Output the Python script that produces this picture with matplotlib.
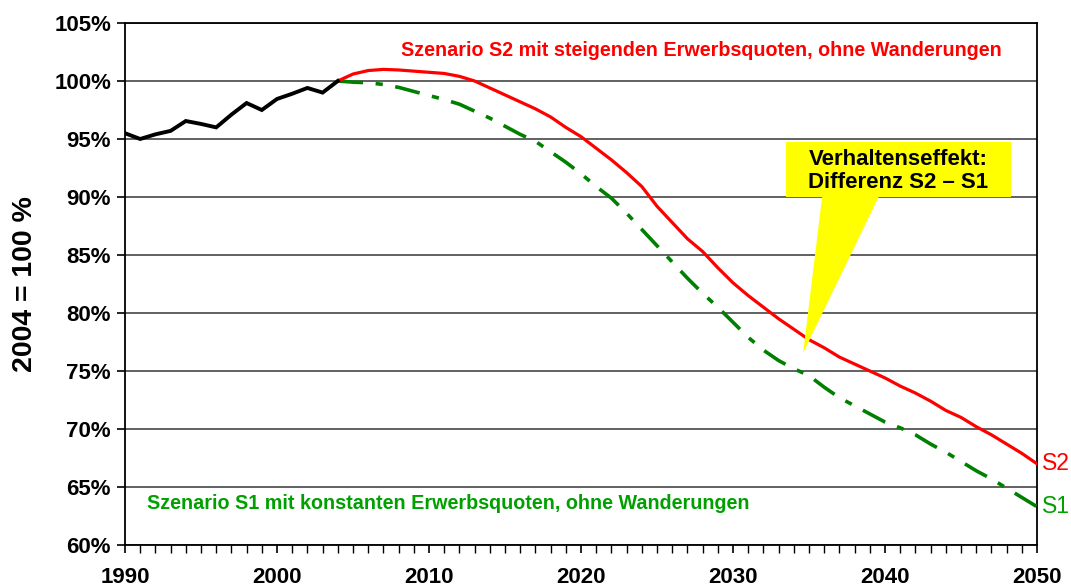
import matplotlib
matplotlib.use("Agg")
import matplotlib.pyplot as plt
from matplotlib.patches import Polygon, Rectangle
from matplotlib.ticker import MultipleLocator, FuncFormatter

plt.rcParams['font.family'] = ['Liberation Sans', 'DejaVu Sans']

# --- data -------------------------------------------------------------
hist_years = list(range(1990, 2005))
hist_vals = [95.5, 95.0, 95.4, 95.7, 96.55, 96.3, 96.0, 97.1, 98.1, 97.5,
             98.45, 98.9, 99.4, 99.0, 100.0]

proj_years = list(range(2004, 2051))
s2_vals = [100.0, 100.6, 100.9, 101.0, 100.95, 100.85, 100.75, 100.65, 100.4, 100.0,
           99.4, 98.8, 98.2, 97.6, 96.9, 96.0, 95.2, 94.2, 93.2, 92.1,
           90.9, 89.2, 87.8, 86.4, 85.3, 83.9, 82.6, 81.5, 80.5, 79.5,
           78.6, 77.7, 77.0, 76.2, 75.6, 75.0, 74.4, 73.7, 73.1, 72.4,
           71.6, 71.0, 70.2, 69.5, 68.7, 67.9, 67.0]
s1_vals = [100.0, 99.9, 99.85, 99.7, 99.45, 99.1, 98.75, 98.4, 98.0, 97.4,
           96.8, 96.1, 95.4, 94.8, 93.9, 93.0, 92.0, 90.9, 89.9, 88.6,
           87.2, 85.8, 84.4, 83.0, 81.7, 80.5, 79.2, 77.9, 76.8, 75.9,
           75.2, 74.6, 73.6, 72.7, 72.0, 71.3, 70.6, 70.1, 69.5, 68.7,
           68.0, 67.2, 66.4, 65.7, 64.9, 64.1, 63.3]

y_ticks = [60, 65, 70, 75, 80, 85, 90, 95, 100, 105]
x_ticks = [1990, 2000, 2010, 2020, 2030, 2040, 2050]

title_s2 = "Szenario S2 mit steigenden Erwerbsquoten, ohne Wanderungen"
title_s1 = "Szenario S1 mit konstanten Erwerbsquoten, ohne Wanderungen"
callout = "Verhaltenseffekt:\nDifferenz S2 \u2013 S1"
ylabel = "2004 = 100 %"

RED = "#FF0000"
GREEN_LINE = "#008000"
GREEN_TEXT = "#00A000"

# --- figure -----------------------------------------------------------
fig = plt.figure(figsize=(10.71, 5.88), dpi=100)
ax = fig.add_axes([0.1167, 0.0731, 0.9683 - 0.1167, 0.9609 - 0.0731])

ax.set_xlim(1990, 2050)
ax.set_ylim(60, 105)

for y in y_ticks:
    ax.axhline(y, color="#555555", lw=1.3, zorder=1)

ax.plot(proj_years, s1_vals, color=GREEN_LINE, lw=2.6,
        dashes=(7, 3.5, 2, 3.5), zorder=3)
ax.plot(proj_years, s2_vals, color=RED, lw=2.3, zorder=4)
ax.plot(hist_years, hist_vals, color="black", lw=2.8, zorder=5,
        solid_joinstyle="miter")

ax.set_yticks(y_ticks)
ax.yaxis.set_major_formatter(FuncFormatter(lambda v, p: f"{int(v)}%"))
ax.set_xticks(x_ticks)
ax.xaxis.set_minor_locator(MultipleLocator(1))
ax.tick_params(axis='y', direction='out', length=6, width=1.2,
               labelsize=16, pad=4, colors='black')
ax.tick_params(axis='x', which='major', direction='out', length=6, width=1.2,
               labelsize=16, pad=10)
ax.tick_params(axis='x', which='minor', direction='out', length=6, width=1.0)
for lab in ax.get_yticklabels() + ax.get_xticklabels():
    lab.set_fontweight('bold')

for s in ax.spines.values():
    s.set_linewidth(1.3)
    s.set_color('black')

ax.set_ylabel(ylabel, fontsize=20.5, fontweight='bold', labelpad=12)

ax.text(0.632, 0.948, title_s2, transform=ax.transAxes, color=RED,
        fontsize=14.2, fontweight='bold', ha='center', va='center')
ax.text(0.024, 0.080, title_s1, transform=ax.transAxes, color=GREEN_TEXT,
        fontsize=14.2, fontweight='bold', ha='left', va='center')

ax.text(1.005, (s2_vals[-1] - 60) / 45, "S2", transform=ax.transAxes,
        color=RED, fontsize=16.5, ha='left', va='center', clip_on=False)
ax.text(1.005, (s1_vals[-1] - 60) / 45, "S1", transform=ax.transAxes,
        color=GREEN_TEXT, fontsize=16.5, ha='left', va='center', clip_on=False)

# callout (in axes fraction)
bx0, bx1 = 0.7245, 0.971
by0, by1 = 0.6673, 0.7727
ax.add_patch(Rectangle((bx0, by0), bx1 - bx0, by1 - by0, transform=ax.transAxes,
                       facecolor="#FFFF00", edgecolor='none', zorder=6))
ax.add_patch(Polygon([(0.7645, by0 + 0.002), (0.827, by0 + 0.002), (0.7435, 0.3678)],
                     closed=True, transform=ax.transAxes,
                     facecolor="#FFFF00", edgecolor='none', zorder=6))
ax.text((bx0 + bx1) / 2, (by0 + by1) / 2 - 0.004, callout, transform=ax.transAxes,
        fontsize=16, fontweight='bold', ha='center', va='center',
        linespacing=1.15, zorder=7)

fig.savefig("out.png", dpi=100)
